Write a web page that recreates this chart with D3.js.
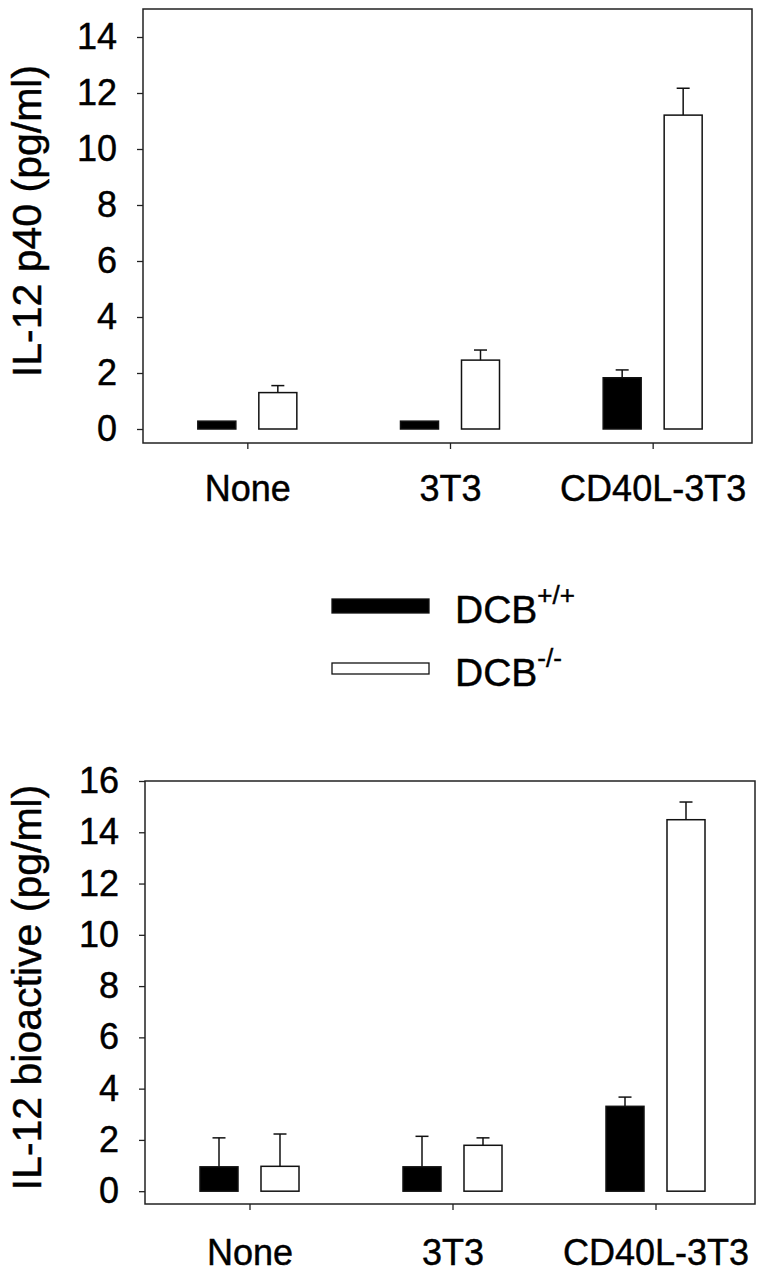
<!DOCTYPE html>
<html><head><meta charset="utf-8">
<script src="https://cdn.jsdelivr.net/npm/d3@7"></script>
<style>
html,body{margin:0;padding:0;background:#fff;}
svg{display:block;font-family:"Liberation Sans",Arial,Helvetica,sans-serif;}
svg text{stroke:#000;stroke-width:0.45px;}
</style></head>
<body>
<svg id="chart" width="761" height="1280"></svg>
<script>
// ---- data ----
const categories = ["None", "3T3", "CD40L-3T3"];
const series = ["DCB+/+", "DCB-/-"];
const seriesSup = ["+/+", "-/-"];
const seriesFill = ["#000", "#fff"];

// top panel: IL-12 p40 (pg/ml)
const p40Wt   = [0.28, 0.28, 1.83];
const p40WtSE = [0, 0, 0.28];
const p40Ko   = [1.30, 2.46, 11.21];
const p40KoSE = [0.25, 0.36, 0.96];
const p40Ticks = [0, 2, 4, 6, 8, 10, 12, 14];

// bottom panel: IL-12 bioactive (pg/ml)
const bioWt   = [0.95, 0.95, 3.31];
const bioWtSE = [1.13, 1.19, 0.36];
const bioKo   = [0.97, 1.79, 14.49];
const bioKoSE = [1.26, 0.29, 0.69];
const bioTicks = [0, 2, 4, 6, 8, 10, 12, 14, 16];

const svg = d3.select("#chart");

function panel(cfg) {
  const {L, R, T, B, ymax, ticks, title, wt, wtSE, ko, koSE, labelPad} = cfg;
  const g = svg.append("g");
  const y = d3.scaleLinear().domain([-0.5, ymax]).range([B, T]);
  const x = d3.scalePoint().domain(categories).range([L + 3, R + 2]).padding(0.5);
  const x1 = d3.scaleBand().domain(series).range([-49.5, 49.5]).paddingInner(0.377);

  // y axis
  const ya = g.append("g").attr("transform", `translate(${L},0)`)
    .call(d3.axisLeft(y).tickValues(ticks).tickSize(6).tickPadding(20).tickFormat(d3.format("d")));
  ya.select(".domain").remove();
  ya.selectAll("line").attr("stroke", "#222").attr("stroke-width", 1.3);
  ya.selectAll("text").attr("font-size", 36).attr("fill", "#000").attr("font-family", null);

  // x axis
  const xa = g.append("g").attr("transform", `translate(0,${B})`)
    .call(d3.axisBottom(x).tickSize(6).tickPadding(labelPad));
  xa.select(".domain").remove();
  xa.selectAll("line").attr("stroke", "#222").attr("stroke-width", 1.3);
  xa.selectAll("text").attr("font-size", 36).attr("fill", "#000").attr("font-family", null);

  // frame
  g.append("rect").attr("x", L).attr("y", T).attr("width", R - L).attr("height", B - T)
    .attr("fill", "none").attr("stroke", "#222").attr("stroke-width", 1.5);

  // y title
  g.append("text")
    .attr("transform", `translate(41,${(T + B) / 2 - 5}) rotate(-90)`)
    .attr("text-anchor", "middle").attr("font-size", 41).attr("fill", "#000")
    .text(title);

  const data = [];
  categories.forEach((c, i) => {
    data.push({c, s: series[0], v: wt[i], e: wtSE[i], fill: seriesFill[0]});
    data.push({c, s: series[1], v: ko[i], e: koSE[i], fill: seriesFill[1]});
  });

  const bars = g.append("g");
  bars.selectAll("rect").data(data).join("rect")
    .attr("x", d => x(d.c) + x1(d.s))
    .attr("width", x1.bandwidth())
    .attr("y", d => y(d.v))
    .attr("height", d => y(0) - y(d.v))
    .attr("fill", d => d.fill)
    .attr("stroke", "#111").attr("stroke-width", 1.5);

  const eb = g.append("g").attr("stroke", "#111").attr("stroke-width", 1.5);
  data.filter(d => d.e > 0).forEach(d => {
    const cx = x(d.c) + x1(d.s) + x1.bandwidth() / 2;
    eb.append("line").attr("x1", cx).attr("x2", cx).attr("y1", y(d.v)).attr("y2", y(d.v + d.e));
    eb.append("line").attr("x1", cx - 6.5).attr("x2", cx + 6.5).attr("y1", y(d.v + d.e)).attr("y2", y(d.v + d.e));
  });
}

panel({L: 143, R: 752, T: 9, B: 443, ymax: 15, ticks: p40Ticks,
  title: "IL-12 p40 (pg/ml)", wt: p40Wt, wtSE: p40WtSE, ko: p40Ko, koSE: p40KoSE, labelPad: 26});
panel({L: 145, R: 755, T: 781, B: 1204, ymax: 16, ticks: bioTicks,
  title: "IL-12 bioactive (pg/ml)", wt: bioWt, wtSE: bioWtSE, ko: bioKo, koSE: bioKoSE, labelPad: 29});

// legend
const leg = svg.append("g");
const legY = [606, 668.5];
const legH = [14, 11];
series.forEach((s, i) => {
  leg.append("rect").attr("x", 332).attr("y", legY[i] - legH[i] / 2)
    .attr("width", 97).attr("height", legH[i])
    .attr("fill", seriesFill[i]).attr("stroke", "#111").attr("stroke-width", 1.3);
  const t = leg.append("text").attr("x", 455).attr("y", legY[i] + 17)
    .attr("font-size", 39).attr("fill", "#000");
  t.append("tspan").text("DCB");
  t.append("tspan").attr("font-size", 26).attr("dy", -19).text(seriesSup[i]);
});
</script>
</body></html>
